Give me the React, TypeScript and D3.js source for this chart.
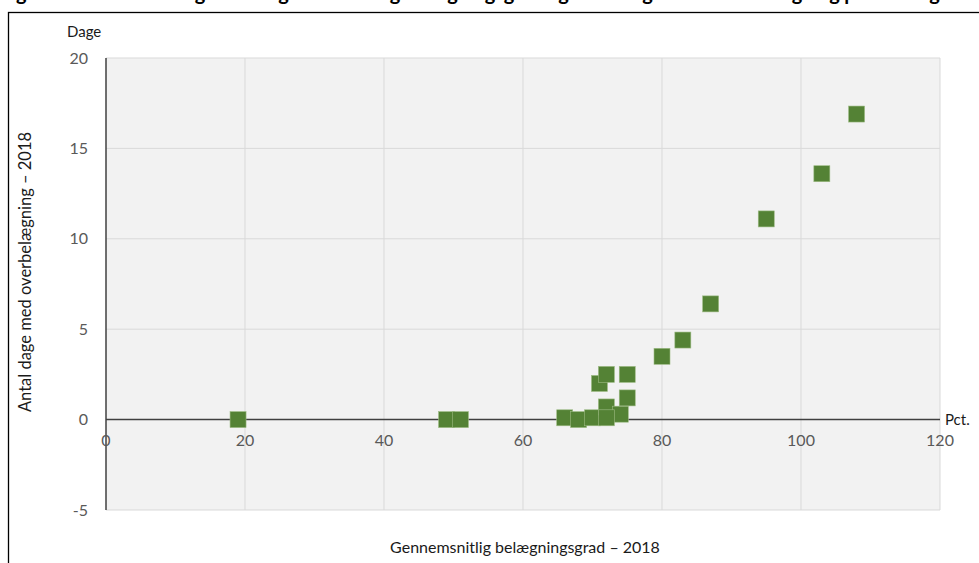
import React, { useEffect, useRef } from 'react';
import * as d3 from 'd3';

// Occupancy rate (pct.) vs. days with over-occupancy, 2018
const occupancy = [19, 49, 51, 66, 68, 70, 72, 74, 72, 75, 71, 72, 75, 80, 83, 87, 95, 103, 108];
const overDays = [0, 0, 0, 0.1, 0, 0.1, 0.7, 0.3, 0.1, 1.2, 2.0, 2.5, 2.5, 3.5, 4.4, 6.4, 11.1, 13.6, 16.9];

const xTicks = [0, 20, 40, 60, 80, 100, 120];
const yTicks = [-5, 0, 5, 10, 15, 20];

const COLORS = {
  plotBg: '#f2f2f2',
  grid: '#d9d9d9',
  axis: '#404040',
  tick: '#595959',
  text: '#1a1a1a',
  marker: '#548235',
  markerEdge: '#9dbb84',
};

const FONT = 'Lato, "Open Sans", sans-serif';

export default function App() {
  const svgRef = useRef<SVGSVGElement>(null);

  useEffect(() => {
    if (!svgRef.current) return;
    const svg = d3.select(svgRef.current);
    svg.selectAll('*').remove();

    const x = d3.scaleLinear().domain([0, 120]).range([106, 940]);
    const y = d3.scaleLinear().domain([-5, 20]).range([510, 58]);

    // figure title, cut off at the top edge as in the source image
    svg.append('text')
      .attr('x', 0)
      .attr('y', 0)
      .attr('font-family', FONT)
      .attr('font-size', '20px')
      .attr('font-weight', '700')
      .attr('fill', '#000')
      .attr('textLength', 979)
      .attr('lengthAdjust', 'spacing')
      .text('Figur 3.2 Sammenhæng mellem gennemsnitlig belægningsgrad og antal dage med overbelægning på afdelingerne');

    // outer frame
    svg.append('rect')
      .attr('x', 8.5)
      .attr('y', 12.5)
      .attr('width', 1000)
      .attr('height', 600)
      .attr('fill', '#fff')
      .attr('stroke', '#000')
      .attr('stroke-width', 1.3);

    // plot area
    svg.append('rect')
      .attr('x', x(0))
      .attr('y', y(20))
      .attr('width', x(120) - x(0))
      .attr('height', y(-5) - y(20))
      .attr('fill', COLORS.plotBg);

    // gridlines
    svg.append('g').selectAll('line')
      .data(xTicks.slice(1))
      .join('line')
      .attr('x1', (d) => x(d)).attr('x2', (d) => x(d))
      .attr('y1', y(20)).attr('y2', y(-5))
      .attr('stroke', COLORS.grid).attr('stroke-width', 1);

    svg.append('g').selectAll('line')
      .data(yTicks.filter((d) => d !== 0))
      .join('line')
      .attr('x1', x(0)).attr('x2', x(120))
      .attr('y1', (d) => y(d)).attr('y2', (d) => y(d))
      .attr('stroke', COLORS.grid).attr('stroke-width', 1);

    // axes crossing at 0
    svg.append('line')
      .attr('x1', x(0)).attr('x2', x(120))
      .attr('y1', y(0)).attr('y2', y(0))
      .attr('stroke', COLORS.axis).attr('stroke-width', 1.5);
    svg.append('line')
      .attr('x1', x(0)).attr('x2', x(0))
      .attr('y1', y(20)).attr('y2', y(-5))
      .attr('stroke', COLORS.axis).attr('stroke-width', 1.5);

    // tick labels
    svg.append('g').selectAll('text')
      .data(xTicks)
      .join('text')
      .attr('x', (d) => x(d))
      .attr('y', y(0) + 26)
      .attr('text-anchor', 'middle')
      .attr('font-family', FONT)
      .attr('font-size', '16px')
      .attr('fill', COLORS.tick)
      .text((d) => d);

    svg.append('g').selectAll('text')
      .data(yTicks)
      .join('text')
      .attr('x', 88)
      .attr('y', (d) => y(d))
      .attr('dy', '0.35em')
      .attr('text-anchor', 'end')
      .attr('font-family', FONT)
      .attr('font-size', '16px')
      .attr('fill', COLORS.tick)
      .text((d) => d);

    // axis titles
    svg.append('text')
      .attr('x', 67).attr('y', 37)
      .attr('font-family', FONT).attr('font-size', '15px')
      .attr('fill', COLORS.text)
      .text('Dage');

    svg.append('text')
      .attr('x', x(120) + 5).attr('y', y(0))
      .attr('dy', '0.35em')
      .attr('font-family', FONT).attr('font-size', '15px')
      .attr('fill', COLORS.text)
      .text('Pct.');

    svg.append('text')
      .attr('transform', `translate(31,${272}) rotate(-90)`)
      .attr('text-anchor', 'middle')
      .attr('font-family', FONT).attr('font-size', '16.5px')
      .attr('fill', COLORS.text)
      .text('Antal dage med overbelægning – 2018');

    svg.append('text')
      .attr('x', 525).attr('y', 553)
      .attr('text-anchor', 'middle')
      .attr('font-family', FONT).attr('font-size', '16px')
      .attr('fill', COLORS.text)
      .text('Gennemsnitlig belægningsgrad – 2018');

    // markers
    const size = 16;
    svg.append('g').selectAll('rect')
      .data(occupancy.map((v, i) => ({ x: v, y: overDays[i] })))
      .join('rect')
      .attr('x', (d) => x(d.x) - size / 2)
      .attr('y', (d) => y(d.y) - size / 2)
      .attr('width', size)
      .attr('height', size)
      .attr('fill', COLORS.marker)
      .attr('stroke', COLORS.markerEdge)
      .attr('stroke-width', 0.6);
  }, []);

  return (
    <svg
      ref={svgRef}
      width={979}
      height={563}
      style={{ position: 'absolute', left: 0, top: 0, background: '#fff' }}
    />
  );
}
